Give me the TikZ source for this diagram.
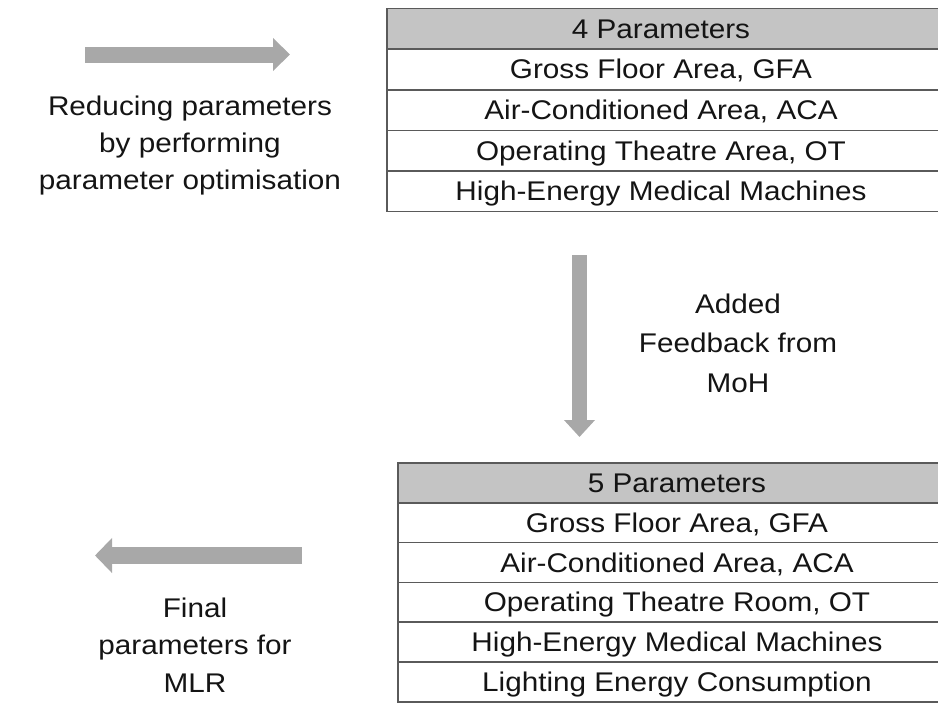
\documentclass[tikz,border=0pt]{standalone}
\usepackage{fontspec}
\setmainfont{Liberation Sans}[FakeStretch=1.1]
\usetikzlibrary{arrows.meta,backgrounds}
\definecolor{txt}{HTML}{141414}
\definecolor{hdr}{HTML}{C4C4C4}
\definecolor{rulecol}{HTML}{5A5A5A}
\definecolor{arr}{HTML}{A8A8A8}
\begin{document}
\begin{tikzpicture}[x=1pt,y=-1pt,
  lbl/.style={font=\fontsize{27}{#1}\selectfont, text=txt, inner sep=0pt, align=center},
  cell/.style={font=\fontsize{27}{30}\selectfont, text=txt, inner sep=0pt, outer sep=0pt,
    minimum height=#1, text height=19pt, text depth=0pt},
  topcell/.style={cell=40.6pt, minimum width=548pt},
  botcell/.style={cell=39.8pt, minimum width=558pt},
  cellrule/.style={draw=rulecol, line width=1.6pt},
  bigarrow/.style={draw=arr, line width=#1}
]
\useasboundingbox (0,0) rectangle (938,705);

% top table
\node[topcell] (a0) at (661,28.8) {4 Parameters};
\node[topcell] (a1) at (661,69.4) {Gross Floor Area, GFA};
\node[topcell] (a2) at (661,110.0) {Air-Conditioned Area, ACA};
\node[topcell] (a3) at (661,150.6) {Operating Theatre Area, OT};
\node[topcell] (a4) at (661,191.2) {High-Energy Medical Machines};

% bottom table
\node[botcell] (b0) at (677,482.9) {5 Parameters};
\node[botcell] (b1) at (677,522.7) {Gross Floor Area, GFA};
\node[botcell] (b2) at (677,562.5) {Air-Conditioned Area, ACA};
\node[botcell] (b3) at (677,602.3) {Operating Theatre Room, OT};
\node[botcell] (b4) at (677,642.1) {High-Energy Medical Machines};
\node[botcell] (b5) at (677,681.9) {Lighting Energy Consumption};

\begin{scope}[on background layer]
  \draw[cellrule, fill=hdr] (a0.north west) rectangle ([xshift=40pt]a0.south east);
  \foreach \n in {a1,a2,a3,a4}
    \draw[cellrule] (\n.north west) rectangle ([xshift=40pt]\n.south east);
  \draw[cellrule, fill=hdr] (b0.north west) rectangle ([xshift=40pt]b0.south east);
  \foreach \n in {b1,b2,b3,b4,b5}
    \draw[cellrule] (\n.north west) rectangle ([xshift=40pt]\n.south east);
\end{scope}

% arrows
\coordinate (r1) at (85,54.5);
\coordinate (r2) at (290,54.5);
\draw[bigarrow=16pt, -{Triangle[length=17pt,width=32pt]}] (r1) -- (r2);

\coordinate (d1) at (579.5,255);
\coordinate (d2) at (579.5,437);
\draw[bigarrow=15pt, -{Triangle[length=17pt,width=30pt]}] (d1) -- (d2);

\coordinate (l1) at (302,555.5);
\coordinate (l2) at (95,555.5);
\draw[bigarrow=17pt, -{Triangle[length=17pt,width=34pt]}] (l1) -- (l2);

% labels (base anchor = baseline of the last line)
\node[lbl=36.7pt, anchor=base] (reduce) at (190,189.3) {Reducing parameters\\by performing\\parameter optimisation};
\node[lbl=39.5pt, anchor=base] (moh) at (738,392) {Added\\Feedback from\\MoH};
\node[lbl=37.5pt, anchor=base] (final) at (195,692) {Final\\parameters for\\MLR};
\end{tikzpicture}
\end{document}
